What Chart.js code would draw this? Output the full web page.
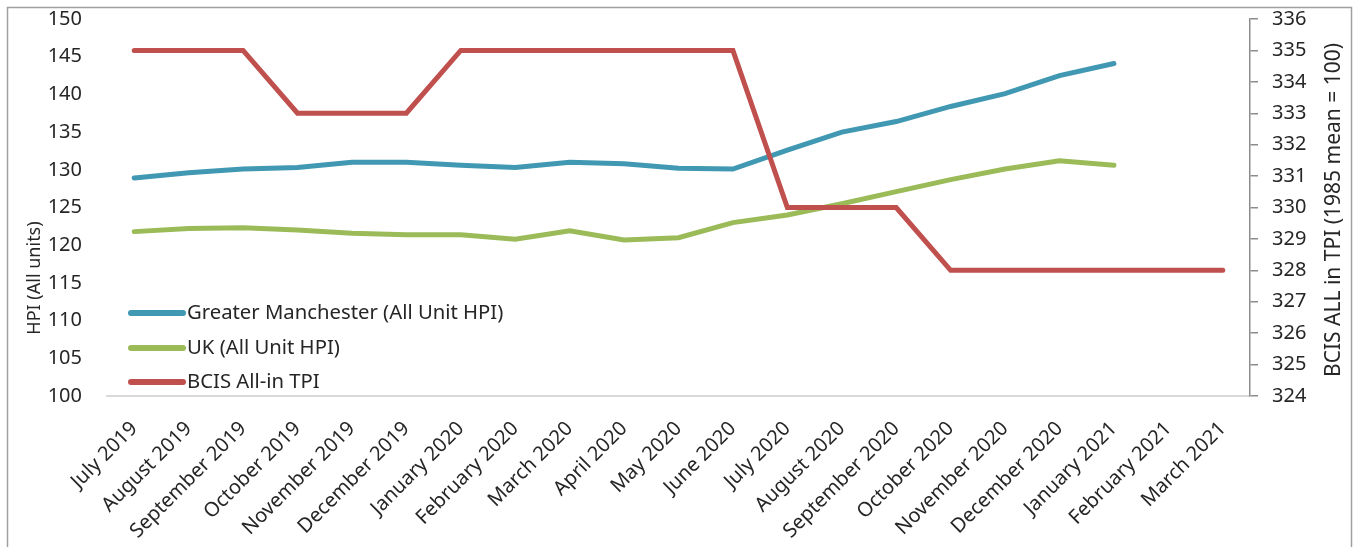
<!DOCTYPE html>
<html>
<head>
<meta charset="utf-8">
<script src="https://cdn.jsdelivr.net/npm/chart.js@4.4.1/dist/chart.umd.min.js"></script>
<style>
html,body{margin:0;padding:0;background:#fff;}
#wrap{position:relative;width:1353px;height:547px;}
</style>
</head>
<body>
<div id="wrap"><canvas id="c" width="1353" height="547"></canvas></div>
<script>
const categories = ['July 2019','August 2019','September 2019','October 2019','November 2019','December 2019','January 2020','February 2020','March 2020','April 2020','May 2020','June 2020','July 2020','August 2020','September 2020','October 2020','November 2020','December 2020','January 2021','February 2021','March 2021'];
const greaterManchester = [128.9,129.6,130.1,130.3,131.0,131.0,130.6,130.3,131.0,130.8,130.2,130.1,132.6,135.0,136.4,138.4,140.1,142.5,144.1,null,null];
const ukHPI = [121.8,122.2,122.3,122.0,121.6,121.4,121.4,120.8,121.9,120.7,121.0,123.0,124.0,125.5,127.1,128.7,130.1,131.2,130.6,null,null];
const bcisTPI = [335,335,335,333,333,333,335,335,335,335,335,335,330,330,330,328,328,328,328,328,328];
const seriesNames = ['Greater Manchester (All Unit HPI)','UK (All Unit HPI)','BCIS All-in TPI'];
const leftTitle = 'HPI (All units)';
const rightTitle = 'BCIS ALL in TPI (1985 mean = 100)';

const FONT = '"Noto Sans", sans-serif';
const TXT = '#262626';

const frame = {
  id:'frame',
  beforeDraw(chart){
    const ctx = chart.ctx;
    ctx.save();
    ctx.fillStyle='#fff';
    ctx.fillRect(0,0,chart.width,chart.height);
    ctx.strokeStyle='#a0a0a0';
    ctx.lineWidth=1.5;
    ctx.strokeRect(7.5,7.5,1344,600);
    ctx.restore();
  }
};

const titles = {
  id:'titles',
  afterDraw(chart){
    const ctx = chart.ctx;
    ctx.save();
    ctx.fillStyle=TXT;
    ctx.textAlign='center';
    ctx.textBaseline='middle';
    ctx.font='18px '+FONT;
    ctx.translate(35,278);
    ctx.rotate(-Math.PI/2);
    ctx.fillText(leftTitle,0,0);
    ctx.restore();
    ctx.save();
    ctx.fillStyle=TXT;
    ctx.textAlign='center';
    ctx.textBaseline='middle';
    ctx.font='21px '+FONT;
    ctx.translate(1334,210);
    ctx.rotate(-Math.PI/2);
    ctx.fillText(rightTitle,0,0);
    ctx.restore();
  }
};

const inLegend = {
  id:'inLegend',
  afterDraw(chart){
    const ctx = chart.ctx;
    const ys=[313,348,382];
    ctx.save();
    ctx.font = '20.3px '+FONT;
    ctx.textBaseline='middle';
    ctx.textAlign='left';
    chart.data.datasets.forEach((ds,i)=>{
      ctx.strokeStyle=ds.borderColor;
      ctx.lineWidth=6;
      ctx.lineCap='round';
      ctx.beginPath();
      ctx.moveTo(131,ys[i]);
      ctx.lineTo(183,ys[i]);
      ctx.stroke();
      ctx.fillStyle=TXT;
      ctx.fillText(ds.label,187,ys[i]);
    });
    ctx.restore();
  }
};

new Chart(document.getElementById('c'),{
  type:'line',
  data:{
    labels:categories,
    datasets:[
      {label:seriesNames[0],data:greaterManchester,borderColor:'#4198b2',yAxisID:'y',order:2},
      {label:seriesNames[1],data:ukHPI,borderColor:'#9bbb59',yAxisID:'y',order:1},
      {label:seriesNames[2],data:bcisTPI,borderColor:'#c0504d',yAxisID:'y1',order:0}
    ]
  },
  options:{
    responsive:false,
    animation:false,
    devicePixelRatio:1,
    layout:{padding:{top:19,left:0,right:0,bottom:0}},
    elements:{
      line:{borderWidth:5,tension:0,borderCapStyle:'round',borderJoinStyle:'miter',fill:false},
      point:{radius:0,hoverRadius:0}
    },
    plugins:{legend:{display:false},tooltip:{enabled:false}},
    scales:{
      x:{
        offset:true,
        grid:{display:false},
        border:{display:true,color:'#d9d9d9',width:2},
        ticks:{color:TXT,font:{family:FONT,size:20},maxRotation:45,minRotation:45,autoSkip:false,padding:13},
        afterFit(s){s.height=151;s.paddingLeft=0;s.paddingRight=0;}
      },
      y:{
        position:'left',
        min:100,max:150,
        grid:{display:false},
        border:{display:false},
        ticks:{stepSize:5,color:TXT,font:{family:FONT,size:20},padding:17},
        afterFit(s){s.width=107;s.paddingTop=0;s.paddingBottom=0;}
      },
      y1:{
        position:'right',
        min:324,max:336,
        grid:{display:true,drawOnChartArea:false,drawTicks:true,tickLength:8,color:'#8c8c8c',lineWidth:1.5},
        border:{display:true,color:'#8c8c8c',width:1.5},
        ticks:{stepSize:1,color:TXT,font:{family:FONT,size:20},padding:14},
        afterFit(s){s.width=103;s.paddingTop=0;s.paddingBottom=0;}
      }
    }
  },
  plugins:[frame,inLegend,titles]
});
</script>
</body>
</html>
